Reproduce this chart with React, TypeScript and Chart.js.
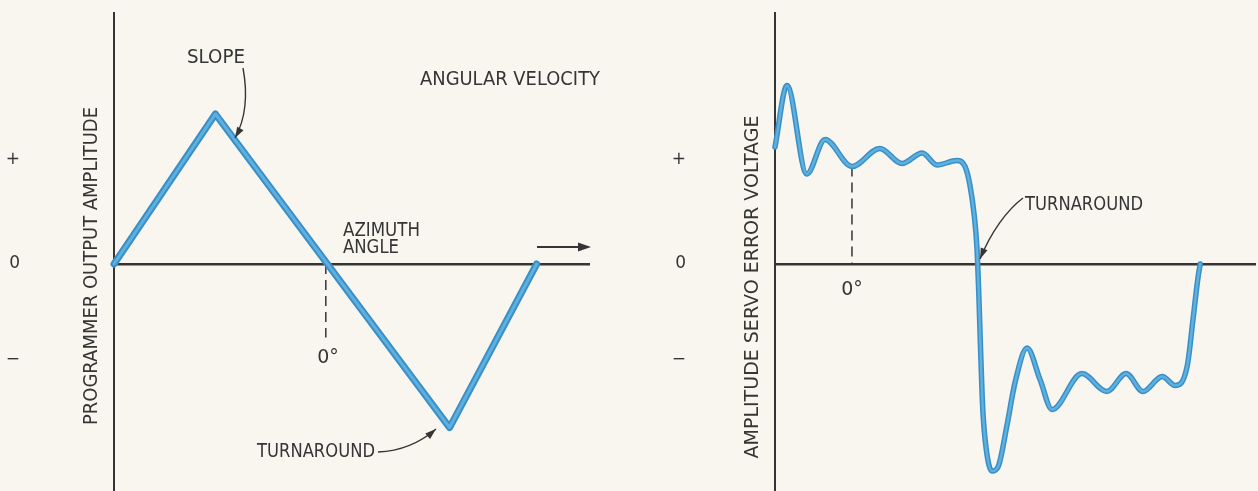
import React, { useEffect, useRef } from "react";
import { Chart, registerables } from "chart.js";

Chart.register(...registerables);

// ---------------- data ----------------
// Left panel: programmer output amplitude vs azimuth angle (triangle wave)
const LEFT_X = [0, 21.3, 70.5, 88.8];
const LEFT_Y = [0, 1.0, -1.09, 0];

// Right panel: amplitude servo error voltage vs azimuth angle
const RIGHT_X = [0, 2.5, 6.6, 10.4, 16.0, 21.8, 26.4, 30.6, 33.7, 37.8, 39.5, 40.5, 41.4, 42.0, 42.4, 42.8, 43.2, 43.9, 45.1, 46.4, 48.2, 49.9, 52.4, 55.1, 57.6, 63.8, 69.0, 73.0, 76.5, 80.5, 83.2, 85.7, 86.9, 87.9, 88.4];
const RIGHT_Y = [0.78, 1.19, 0.6, 0.83, 0.65, 0.77, 0.67, 0.74, 0.66, 0.69, 0.65, 0.53, 0.33, 0.1, -0.23, -0.63, -0.97, -1.23, -1.38, -1.35, -1.08, -0.79, -0.56, -0.77, -0.97, -0.73, -0.85, -0.73, -0.85, -0.75, -0.81, -0.68, -0.37, -0.1, 0];

// 0° reference marks (dashed drop lines)
const LEFT_ZERO_X = [44.5, 44.5];
const LEFT_ZERO_Y = [0, -0.49];
const RIGHT_ZERO_X = [16.0, 16.0];
const RIGHT_ZERO_Y = [0.65, 0];

// y-axis tick labels
const TICK_VALUES = [0.693, 0, -0.64];
const TICK_LABELS = ["+", "0", "\u2212"];

const Y_MIN = -1.513;
const Y_MAX = 1.673;

// ---------------- styles ----------------
const INK = "#353535";
const BLUE_EDGE = "#3a8fc6";
const BLUE_CORE = "#5eb0df";
const FONT = '"DejaVu Sans", "Liberation Sans", sans-serif';

const pts = (xs: number[], ys: number[]) => xs.map((x, i) => ({ x, y: ys[i] }));

function label(
  ctx: CanvasRenderingContext2D,
  text: string,
  x: number,
  y: number,
  w: number,
  align: CanvasTextAlign = "left",
  angle = 0,
  size = 19
) {
  ctx.save();
  ctx.translate(x, y);
  if (angle) ctx.rotate(angle);
  ctx.font = `${size}px ${FONT}`;
  ctx.fillStyle = INK;
  ctx.textAlign = align;
  ctx.textBaseline = "middle";
  ctx.fillText(text, 0, 0, w);
  ctx.restore();
}

function head(ctx: CanvasRenderingContext2D, fx: number, fy: number, x: number, y: number, L = 11, W = 3.6) {
  const a = Math.atan2(y - fy, x - fx);
  ctx.beginPath();
  ctx.moveTo(x, y);
  ctx.lineTo(x - L * Math.cos(a) + W * Math.sin(a), y - L * Math.sin(a) - W * Math.cos(a));
  ctx.lineTo(x - L * Math.cos(a) - W * Math.sin(a), y - L * Math.sin(a) + W * Math.cos(a));
  ctx.closePath();
  ctx.fill();
}

function curveArrow(ctx: CanvasRenderingContext2D, p: number[]) {
  ctx.save();
  ctx.strokeStyle = INK;
  ctx.fillStyle = INK;
  ctx.lineWidth = 1.4;
  ctx.beginPath();
  ctx.moveTo(p[0], p[1]);
  ctx.bezierCurveTo(p[2], p[3], p[4], p[5], p[6], p[7]);
  ctx.stroke();
  head(ctx, p[4], p[5], p[6], p[7]);
  ctx.restore();
}

function straightArrow(ctx: CanvasRenderingContext2D, x0: number, y0: number, x1: number, y1: number) {
  ctx.save();
  ctx.strokeStyle = INK;
  ctx.fillStyle = INK;
  ctx.lineWidth = 2;
  ctx.beginPath();
  ctx.moveTo(x0, y0);
  ctx.lineTo(x1 - 6, y1);
  ctx.stroke();
  head(ctx, x0, y0, x1, y1, 13, 4.5);
  ctx.restore();
}

function annotateLeft(ctx: CanvasRenderingContext2D) {
  label(ctx, "SLOPE", 187, 58, 58);
  curveArrow(ctx, [243, 68, 248, 95, 245, 120, 235, 138]);
  label(ctx, "ANGULAR VELOCITY", 420, 80, 180);
  label(ctx, "AZIMUTH", 343, 231, 77);
  label(ctx, "ANGLE", 343, 248, 56);
  straightArrow(ctx, 537, 247, 591, 247);
  label(ctx, "0\u00b0", 328, 358, 26, "center");
  label(ctx, "TURNAROUND", 257, 452, 118);
  curveArrow(ctx, [378, 452, 402, 451, 421, 442, 436, 429]);
  label(ctx, "PROGRAMMER OUTPUT AMPLITUDE", 92, 266, 318, "center", -Math.PI / 2);
}

function annotateRight(ctx: CanvasRenderingContext2D) {
  label(ctx, "TURNAROUND", 395, 205, 118);
  curveArrow(ctx, [393, 198, 377, 210, 361, 232, 350, 259]);
  label(ctx, "0\u00b0", 222, 290, 24, "center");
  label(ctx, "AMPLITUDE SERVO ERROR VOLTAGE", 123, 287, 350, "center", -Math.PI / 2);
}

function makeConfig(opts: {
  axisWidth: number;
  tickPadding: number;
  padRight: number;
  datasets: any[];
  annotate: (ctx: CanvasRenderingContext2D) => void;
}): any {
  return {
    type: "line",
    data: { datasets: opts.datasets },
    options: {
      animation: false,
      responsive: false,
      maintainAspectRatio: false,
      events: [],
      layout: { padding: { left: 0, right: opts.padRight, top: 13, bottom: 0 } },
      plugins: { legend: { display: false }, tooltip: { enabled: false } },
      scales: {
        x: { type: "linear", min: 0, max: 100, display: false },
        y: {
          type: "linear",
          min: Y_MIN,
          max: Y_MAX,
          afterFit: (s: any) => {
            s.width = opts.axisWidth;
            s.paddingTop = 0;
            s.paddingBottom = 0;
          },
          afterBuildTicks: (s: any) => {
            s.ticks = TICK_VALUES.map((v) => ({ value: v }));
          },
          ticks: {
            autoSkip: false,
            callback: (_v: any, i: number) => TICK_LABELS[i],
            padding: opts.tickPadding,
            color: INK,
            font: { family: FONT, size: 17 },
          },
          grid: {
            drawTicks: false,
            lineWidth: 2.4,
            color: (c: any) => (c.tick && c.tick.value === 0 ? INK : "rgba(0,0,0,0)"),
          },
          border: { display: true, color: INK, width: 2 },
        },
      },
    },
    plugins: [
      {
        id: "notes",
        afterDatasetsDraw: (chart: any) => opts.annotate(chart.ctx),
      },
    ],
  };
}

function lineSet(data: any[], color: string, width: number, order: number, extra: any = {}) {
  return {
    data,
    borderColor: color,
    borderWidth: width,
    pointRadius: 0,
    fill: false,
    clip: false,
    order,
    borderCapStyle: "round",
    borderJoinStyle: "round",
    ...extra,
  };
}

export default function App() {
  const leftRef = useRef<HTMLCanvasElement>(null);
  const rightRef = useRef<HTMLCanvasElement>(null);

  useEffect(() => {
    const leftData = pts(LEFT_X, LEFT_Y);
    const rightData = pts(RIGHT_X, RIGHT_Y);
    const left = new Chart(
      leftRef.current as HTMLCanvasElement,
      makeConfig({
        axisWidth: 114,
        tickPadding: 94,
        padRight: 40,
        annotate: annotateLeft,
        datasets: [
          lineSet(leftData, BLUE_CORE, 3, 1, { tension: 0 }),
          lineSet(leftData, BLUE_EDGE, 7, 2, { tension: 0 }),
          lineSet(pts(LEFT_ZERO_X, LEFT_ZERO_Y), INK, 1.5, 3, { borderDash: [10, 6], borderCapStyle: "butt" }),
        ],
      })
    );
    const right = new Chart(
      rightRef.current as HTMLCanvasElement,
      makeConfig({
        axisWidth: 145,
        tickPadding: 89,
        padRight: 2,
        annotate: annotateRight,
        datasets: [
          lineSet(rightData, BLUE_CORE, 2.5, 1, { cubicInterpolationMode: "monotone" }),
          lineSet(rightData, BLUE_EDGE, 5.5, 2, { cubicInterpolationMode: "monotone" }),
          lineSet(pts(RIGHT_ZERO_X, RIGHT_ZERO_Y), INK, 1.5, 3, { borderDash: [10, 6], borderCapStyle: "butt" }),
        ],
      })
    );
    return () => {
      left.destroy();
      right.destroy();
    };
  }, []);

  return (
    <div
      style={{
        position: "fixed",
        left: 0,
        top: 0,
        width: 1258,
        height: 491,
        background: "#f8f6ef",
        overflow: "hidden",
      }}
    >
      <canvas
        ref={leftRef}
        width={630}
        height={491}
        style={{ position: "absolute", left: 0, top: 0, width: 630, height: 491 }}
      />
      <canvas
        ref={rightRef}
        width={628}
        height={491}
        style={{ position: "absolute", left: 630, top: 0, width: 628, height: 491 }}
      />
    </div>
  );
}
